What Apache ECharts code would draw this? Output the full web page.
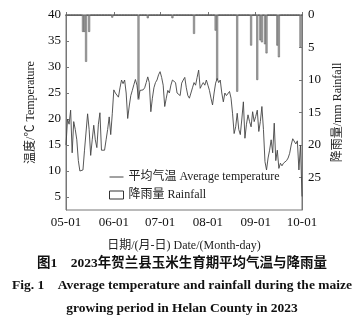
<!DOCTYPE html>
<html><head><meta charset="utf-8">
<script src="https://cdn.jsdelivr.net/npm/echarts@6/dist/echarts.min.js"></script>
<style>html,body{margin:0;padding:0;background:#fff}#c{width:364px;height:323px}</style>
</head><body><div id="c"></div>
<script>
// Daily mean temperature (°C), 05-01 .. 10-01
const temperature = [
  15, 20, 19, 21.7, 13.5, 19.5, 18, 16, 12, 10, 9.8, 10.2, 14, 17.5, 21, 18, 13, 16, 18.8, 16,
  14.5, 19, 21.2, 14, 14.2, 14, 16, 18, 20.4, 17, 21,
  25.6, 25.0, 25.3, 24.2, 26.0, 27.5, 26.8, 27.5, 25.0, 20.1, 22.5, 24.5, 25.5, 26.6, 27.6, 26.5, 24.0, 25.5, 25.6, 25.6,
  26.0, 27.0, 28.1, 27.0, 21.4, 24.0, 26.0, 27.0, 27.5, 28.5,
  29.1, 28.0, 26.5, 22.4, 24.0, 25.5, 25.0, 26.5, 27.5, 27.8, 27.0, 25.0, 25.3, 24.5, 26.9, 27.5, 28.0, 26.0, 24.5, 24.0,
  25.0, 26.0, 27.0, 26.5, 28.0, 29.4, 25.9, 26.5, 27.0, 26.5, 27.5,
  26.5, 25.5, 24.0, 22.7, 25.0, 26.9, 27.8, 27.0, 27.5, 25.0, 23.3, 25.0, 24.5, 24.8, 25.3, 24.0, 21.0, 17.2, 18.5, 21.1,
  18.0, 17.0, 20.0, 23.3, 16.3, 19.0, 20.8, 19.5, 18.5, 21.4, 19.5,
  20.5, 21.7, 17.6, 19.5, 22.4, 18.0, 11.8, 10.2, 12.5, 14.0, 16.0, 13.5, 19.2, 12.0, 14.0, 10.5, 11.5, 11.0, 11.5, 11.8,
  12.0, 12.5, 13.4, 15.0, 16.2, 16.0, 15.2, 15.8, 10.2, 15.0,
  5.1
];
// Rainfall events (mm)
const rainDates   = ['05-12','05-13','05-14','05-16','05-31','06-17','06-23','07-09','07-23','08-06','08-07','08-20','08-29','09-02','09-04','09-05','09-07','09-08','09-15','09-16','09-30'];
const rainAmounts = [2.6, 2.6, 7.2, 2.6, 0.4, 13, 0.5, 0.5, 2.9, 2.4, 10, 11.8, 4.7, 10, 3.9, 4.2, 4.5, 5.9, 4.7, 6.5, 4.9];
const tempTicks = [5, 10, 15, 20, 25, 30, 35, 40];
const rainTicks = [0, 5, 10, 15, 20, 25];
const monthLengths = [31, 30, 31, 31, 30];

const dates = [];
monthLengths.forEach((n, i) => {
  for (let d = 1; d <= n; d++) dates.push(String(5 + i).padStart(2, '0') + '-' + String(d).padStart(2, '0'));
});
dates.push('10-01');
const rainfall = dates.map(d => { const k = rainDates.indexOf(d); return k >= 0 ? rainAmounts[k] : 0; });

const FONT = '"Liberation Serif", "Noto Sans CJK SC", serif';
const isMonthStart = (i, v) => v.endsWith('-01');
const chart = echarts.init(document.getElementById('c'), null, {renderer: 'canvas'});
chart.setOption({
  animation: false,
  backgroundColor: '#fff',
  textStyle: {fontFamily: FONT, color: '#111'},
  grid: {left: 66, right: 62, top: 15, bottom: 113, show: true, borderColor: '#777', borderWidth: 1},
  legend: {
    orient: 'vertical', left: 104, top: 166, itemWidth: 14, itemHeight: 8, itemGap: 6,
    textStyle: {fontFamily: FONT, fontSize: 12, color: '#222'},
    data: [
      {name: '平均气温 Average temperature', itemStyle: {opacity: 0}, lineStyle: {color: '#444', width: 1}},
      {name: '降雨量 Rainfall', icon: 'rect', itemStyle: {color: '#fff', borderColor: '#333', borderWidth: 1}}
    ]
  },
  xAxis: {
    type: 'category', data: dates, boundaryGap: false,
    axisLine: {lineStyle: {color: '#777'}},
    axisTick: {inside: true, length: 3, interval: isMonthStart, lineStyle: {color: '#777'}},
    axisLabel: {interval: isMonthStart, fontSize: 13, color: '#111', margin: 6, fontFamily: FONT},
    name: '日期/(月-日) Date/(Month-day)', nameLocation: 'middle', nameGap: 30,
    nameTextStyle: {fontSize: 12, color: '#222', fontFamily: FONT}
  },
  yAxis: [
    {
      type: 'value', min: 2.5, max: 40, position: 'left',
      axisLine: {show: true, lineStyle: {color: '#777'}},
      axisTick: {show: true, inside: true, length: 3, customValues: tempTicks, lineStyle: {color: '#777'}},
      axisLabel: {customValues: tempTicks, fontSize: 13, color: '#111', margin: 5, fontFamily: FONT},
      splitLine: {show: false},
      name: '温度/℃ Temperature', nameLocation: 'middle', nameGap: 26, nameRotate: 90,
      nameTextStyle: {fontSize: 12, color: '#222', fontFamily: FONT}
    },
    {
      type: 'value', min: 0, max: 30, inverse: true, position: 'right',
      axisLine: {show: true, lineStyle: {color: '#777'}},
      axisTick: {show: true, inside: true, length: 3, customValues: rainTicks, lineStyle: {color: '#777'}},
      axisLabel: {customValues: rainTicks, fontSize: 13, color: '#111', margin: 6, fontFamily: FONT},
      splitLine: {show: false},
      name: '降雨量/mm Rainfall', nameLocation: 'middle', nameGap: 17, nameRotate: 90,
      nameTextStyle: {fontSize: 12, color: '#222', fontFamily: FONT}
    }
  ],
  series: [
    {
      name: '平均气温 Average temperature', type: 'line', yAxisIndex: 0, data: temperature,
      symbol: 'none', lineStyle: {color: '#444', width: 0.9}, itemStyle: {color: '#444'}, z: 3
    },
    {
      name: '降雨量 Rainfall', type: 'bar', yAxisIndex: 1, data: rainfall, barWidth: 2,
      itemStyle: {color: '#aaa', borderColor: '#555', borderWidth: 0.5}, z: 2
    }
  ],
  graphic: [
    {type: 'text', left: 'center', top: 257, style: {text: '图1    2023年贺兰县玉米生育期平均气温与降雨量', font: 'bold 13.5px ' + FONT, fill: '#111'}},
    {type: 'text', left: 'center', top: 279, style: {text: 'Fig. 1    Average temperature and rainfall during the maize', font: 'bold 13.5px ' + FONT, fill: '#111'}},
    {type: 'text', left: 'center', top: 302, style: {text: 'growing period in Helan County in 2023', font: 'bold 13.5px ' + FONT, fill: '#111'}}
  ]
});
</script>
</body></html>
